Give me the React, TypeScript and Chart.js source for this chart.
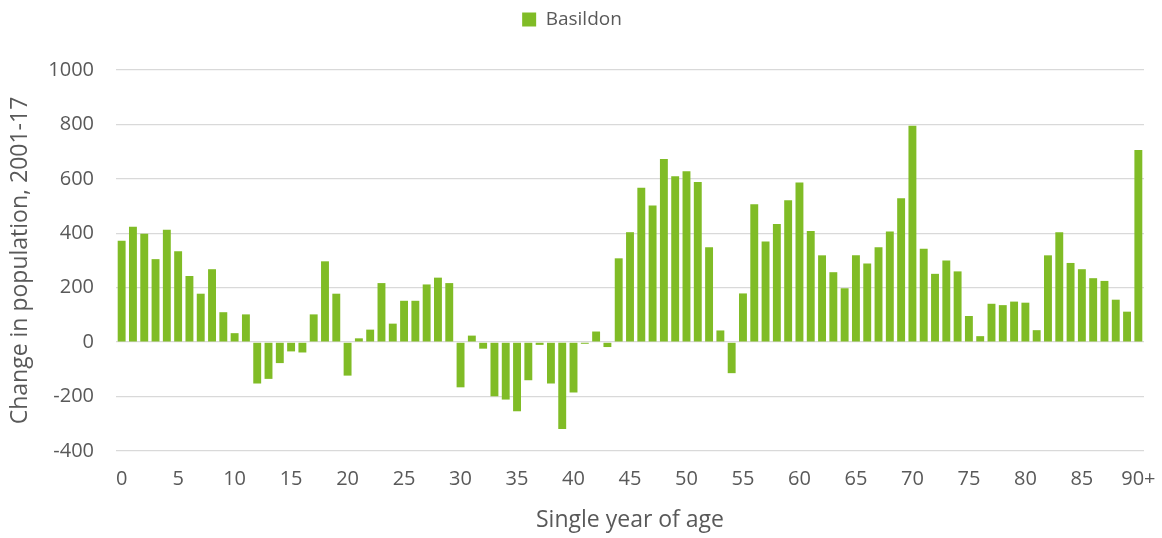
import React, { useEffect, useRef } from "react";
import { Chart, registerables } from "chart.js";

Chart.register(...registerables);

const ages: string[] = [
  "0","1","2","3","4","5","6","7","8","9",
  "10","11","12","13","14","15","16","17","18","19",
  "20","21","22","23","24","25","26","27","28","29",
  "30","31","32","33","34","35","36","37","38","39",
  "40","41","42","43","44","45","46","47","48","49",
  "50","51","52","53","54","55","56","57","58","59",
  "60","61","62","63","64","65","66","67","68","69",
  "70","71","72","73","74","75","76","77","78","79",
  "80","81","82","83","84","85","86","87","88","89",
  "90+",
];

const basildon: number[] = [
  373, 424, 398, 305, 413, 334, 243, 178, 268, 110,
  33, 102, -152, -135, -77, -34, -38, 102, 297, 178,
  -123, 14, 46, 217, 68, 152, 152, 212, 237, 217,
  -166, 24, -24, -199, -211, -254, -140, -10, -152, -319,
  -185, -6, 39, -18, 308, 404, 567, 502, 673, 610,
  628, 588, 349, 43, -114, 179, 507, 370, 434, 521,
  587, 408, 319, 257, 198, 319, 289, 349, 407, 529,
  795, 343, 251, 300, 260, 96, 22, 141, 136, 149,
  145, 44, 319, 404, 291, 268, 235, 225, 156, 112,
  706,
];

const seriesName = "Basildon";
const yTitle = "Change in population, 2001-17";
const xTitle = "Single year of age";

const TEXT = "#595959";
const FONT = "'Open Sans', sans-serif";

export default function App() {
  const ref = useRef<HTMLCanvasElement | null>(null);

  useEffect(() => {
    document.body.style.margin = "0";
    const canvas = ref.current;
    if (!canvas) return;

    const legendHeightPlugin = {
      id: "legendHeight",
      beforeInit(chart: any) {
        const legend = chart.legend;
        if (!legend) return;
        const orig = legend.fit;
        legend.fit = function () {
          orig.call(this);
          this.height = 70;
        };
      },
    };

    const chart = new Chart(canvas, {
      type: "bar",
      data: {
        labels: ages,
        datasets: [
          {
            label: seriesName,
            data: basildon,
            backgroundColor: "#80BC26",
            borderWidth: 0,
            barPercentage: 0.7,
            categoryPercentage: 1,
          },
        ],
      },
      options: {
        animation: false,
        responsive: false,
        layout: { padding: { left: 0, right: 18, top: 0, bottom: 0 } },
        plugins: {
          legend: {
            position: "top",
            labels: {
              boxWidth: 14,
              boxHeight: 14,
              padding: 10,
              color: TEXT,
              font: { family: FONT, size: 19 },
            },
          },
          tooltip: { enabled: false },
        },
        scales: {
          x: {
            grid: { display: false, drawTicks: false },
            border: { display: false },
            ticks: {
              color: TEXT,
              font: { family: FONT, size: 20 },
              autoSkip: false,
              maxRotation: 0,
              minRotation: 0,
              padding: 16,
              callback: (_v: any, i: number) => (i % 5 === 0 ? ages[i] : ""),
            },
            title: {
              display: true,
              text: xTitle,
              color: TEXT,
              font: { family: FONT, size: 23 },
              padding: { top: 0, bottom: 4 },
            },
            afterFit: (scale: any) => {
              scale.height = 87;
              scale.paddingRight = 0;
              scale.paddingLeft = 0;
            },
          },
          y: {
            min: -400,
            max: 1000,
            ticks: {
              stepSize: 200,
              color: TEXT,
              font: { family: FONT, size: 20 },
              padding: 22,
              callback: (v: any) => String(v),
            },
            grid: { color: "#D9D9D9", lineWidth: 1.3, drawTicks: false },
            border: { display: false },
            title: {
              display: true,
              text: yTitle,
              color: TEXT,
              font: { family: FONT, size: 23 },
              padding: { top: 7, bottom: 0 },
            },
            afterFit: (scale: any) => {
              scale.width = 116;
            },
          },
        },
      },
      plugins: [legendHeightPlugin],
    });

    return () => chart.destroy();
  }, []);

  return (
    <div style={{ width: 1162, height: 538 }}>
      <canvas ref={ref} width={1162} height={538} />
    </div>
  );
}
